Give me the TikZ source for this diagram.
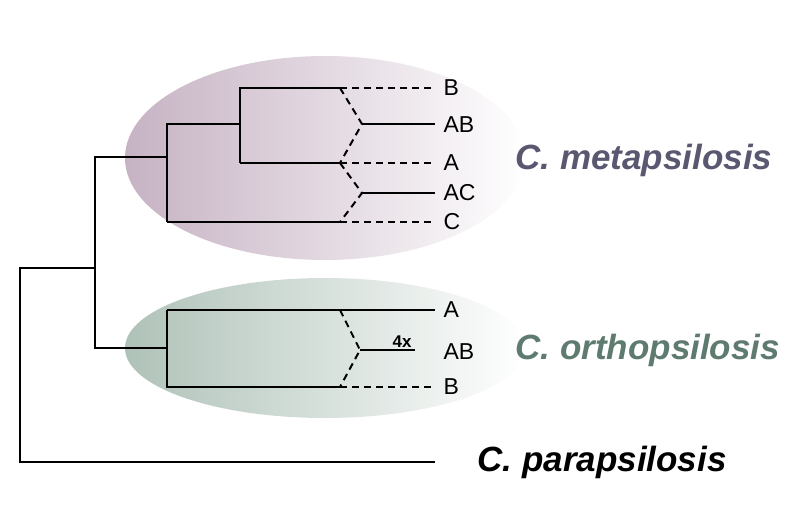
\documentclass[tikz,border=0pt]{standalone}
\usepackage{fontspec}
\setmainfont{Liberation Sans}
\definecolor{metacol}{HTML}{5A5870}
\definecolor{orthocol}{HTML}{5F7A6E}
\definecolor{metabg}{HTML}{C6B2C3}
\definecolor{orthobg}{HTML}{AFC2B8}
\begin{document}
\begin{tikzpicture}[x=1pt,y=-1pt,
    branch/.style={line width=2pt},
    hybrid/.style={line width=2pt, dash pattern=on 7pt off 5pt},
    tip/.style={anchor=west, font=\fontsize{23}{23}\selectfont},
    species/.style={anchor=west, font=\fontsize{35}{35}\selectfont\bfseries\itshape}]
    \useasboundingbox (0,0) rectangle (786,519);
    % Clade backgrounds
    \shade[left color=metabg, right color=white] (325,158) ellipse (200 and 102);
    \shade[left color=orthobg, right color=white] (325,348) ellipse (200 and 70);

    % Coordinates
    \coordinate (root) at (20,268);
    \coordinate (inner) at (95,157);
    \coordinate (meta) at (167,124);
    \coordinate (ortho) at (167,348);
    \coordinate (mab) at (240,124);
    \coordinate (hab) at (362,124);
    \coordinate (hac) at (362,193);
    \coordinate (hoab) at (360,350);

    % Tip labels
    \node[tip] (mB) at (440,88) {B};
    \node[tip] (mAB) at (440,125) {AB};
    \node[tip] (mA) at (440,163) {A};
    \node[tip] (mAC) at (440,193) {AC};
    \node[tip] (mC) at (440,222) {C};
    \node[tip] (oA) at (440,310) {A};
    \node[tip] (oAB) at (440,352) {AB};
    \node[tip] (oB) at (440,387) {B};
    \node[anchor=south, font=\bfseries\fontsize{17}{17}\selectfont] (four) at (402,351) {4x};

    % Species
    \node[species, text=metacol] (smeta) at (512,160) {C. metapsilosis};
    \node[species, text=orthocol] (sortho) at (512,350) {C. orthopsilosis};
    \node[species, text=black] (spara) at (474,462) {C. parapsilosis};

    % Backbone
    \draw[branch] (435,462) -| (root) -| (inner |- ortho) -- (ortho);
    \draw[branch] (root) -| (inner) -- (inner -| meta);
    \draw[branch] (meta |- mC) -- (meta |- inner) |- (mab);
    \draw[branch] (mab |- mA) -- (mab |- mB) -- (340,88);
    \draw[branch] (mab |- mA) -- (340,163);
    \draw[branch] (meta |- mC) -- (340,222);
    \draw[branch] (ortho |- oA) -- (ortho |- oB) -- (340,387);
    \draw[branch] (ortho |- oA) -- (435,310);

    % Parental lineages
    \draw[hybrid] (340,88) -- (435,88);
    \draw[hybrid] (340,163) -- (435,163);
    \draw[hybrid] (340,222) -- (435,222);
    \draw[hybrid] (340,387) -- (435,387);

    % Hybrids
    \draw[hybrid] (340,88) -- (hab) -- (340,163);
    \draw[branch] (hab) -- (435,124);
    \draw[hybrid] (340,163) -- (hac) -- (340,222);
    \draw[branch] (hac) -- (435,193);
    \draw[hybrid] (340,310) -- (hoab) -- (340,387);
    \draw[branch] (hoab) -- (415,350);
\end{tikzpicture}
\end{document}
